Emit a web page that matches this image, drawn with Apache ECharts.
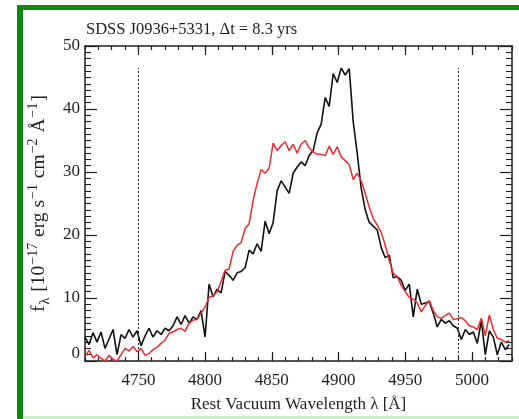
<!DOCTYPE html>
<html>
<head>
<meta charset="utf-8">
<script src="https://cdn.jsdelivr.net/npm/echarts@6/dist/echarts.min.js"></script>
<style>html,body{margin:0;padding:0;background:#fff;}#c{width:519px;height:419px;}</style>
</head>
<body>
<div id="c"></div>
<script>
const titleText = 'SDSS J0936+5331, \u0394t = 8.3 yrs';
const xTitle = 'Rest Vacuum Wavelength \u03bb [\u00c5]';
const xMajorTicks = [4750, 4800, 4850, 4900, 4950, 5000];
const xMinorTicks = [4710,4720,4730,4740,4750,4760,4770,4780,4790,4800,4810,4820,4830,4840,4850,4860,4870,4880,4890,4900,4910,4920,4930,4940,4950,4960,4970,4980,4990,5000,5010,5020,5030];
const yTicks = [0, 10, 20, 30, 40, 50];
const refLines = [4750, 4990];
const refTop = 46.5;

const wavelength = [4710,4713,4716,4719,4722,4725,4728,4731,4734,4737,4740,4743,4746,4749,4752,4755,4758,4761,4764,4767,4770,4773,4776,4779,4782,4785,4788,4791,4794,4797,4800,4803,4806,4809,4812,4815,4818,4821,4824,4827,4830,4833,4836,4839,4842,4845,4848,4851,4854,4857,4860,4863,4866,4869,4872,4875,4878,4881,4884,4887,4890,4893,4896,4899,4902,4905,4908,4911,4914,4917,4920,4923,4926,4929,4932,4935,4938,4941,4944,4947,4950,4953,4956,4959,4962,4965,4968,4971,4974,4977,4980,4983,4986,4989,4992,4995,4998,5001,5004,5007,5010,5013,5016,5019,5022,5025,5028];

const fluxBlack = [3.8,2.6,4.5,3.0,4.6,2.0,3.5,5.0,1.0,4.2,3.6,5.0,3.8,4.8,2.4,4.0,5.2,3.8,4.8,4.2,5.2,4.8,5.6,7.0,5.8,7.2,6.0,7.0,6.6,8.0,3.8,12.2,10.2,11.4,10.8,14.2,13.6,12.8,14.0,14.2,14.8,17.6,17.0,18.6,17.4,22.2,20.2,22.0,27.0,28.6,27.6,26.6,29.8,30.8,31.6,31.0,32.6,33.4,36.2,37.6,41.8,40.4,45.6,44.2,46.5,45.4,46.4,38.0,33.0,27.4,24.0,22.0,21.4,20.8,18.0,16.4,16.8,13.2,13.4,12.8,11.2,12.2,7.0,11.4,9.0,9.2,9.4,7.6,5.4,6.6,6.0,6.4,5.6,5.2,3.4,5.0,4.2,4.6,2.8,6.4,1.0,4.8,3.8,1.0,3.0,1.8,2.6];

const fluxRed = [0.7,1.7,0.5,1.0,0.4,0.0,0.9,0.3,0.0,1.0,2.0,1.6,2.3,1.5,2.0,0.9,1.2,1.8,2.2,2.8,3.3,4.4,4.6,5.0,5.2,4.7,6.0,6.5,6.6,7.6,8.6,10.1,10.4,11.0,12.6,14.4,14.6,17.4,18.4,18.8,21.0,21.8,25.5,28.2,30.4,29.8,30.6,34.6,33.4,34.2,34.8,33.4,34.4,33.0,34.4,35.0,33.8,33.2,32.8,32.8,32.6,34.1,32.8,34.0,32.4,31.8,31.2,28.8,29.8,28.6,26.6,24.4,22.6,21.6,20.4,18.4,16.0,13.9,13.4,12.0,11.0,10.1,9.8,9.2,7.8,8.8,9.6,8.0,7.0,6.8,7.2,7.6,6.6,6.7,6.9,6.4,5.6,5.4,5.0,6.8,4.0,7.3,5.0,3.6,3.4,3.0,3.2];

const serif = 'Liberation Serif';
const ink = '#1e1e1e';

function pairs(ys) { return wavelength.map((w, i) => [w, ys[i]]); }

const chart = echarts.init(document.getElementById('c'));

const lineCol = '#1e1e1e';
function xAx(pos, ticks, len, showLine, showLabel) {
  return {
    type: 'value', position: pos, min: 4710, max: 5030,
    axisLine: { show: showLine, onZero: false, lineStyle: { color: lineCol, width: 1.5 } },
    axisTick: { show: true, inside: true, length: len, customValues: ticks, lineStyle: { color: lineCol, width: 1.2 } },
    axisLabel: { show: showLabel, customValues: ticks, margin: 11, color: ink, fontFamily: serif, fontSize: 17,
      formatter: v => String(v) },
    splitLine: { show: false }
  };
}
function yAx(pos, showLabel) {
  return {
    type: 'value', position: pos, min: 0, max: 50, interval: 10,
    axisLine: { show: true, onZero: false, lineStyle: { color: lineCol, width: 1.5 } },
    axisTick: { show: true, inside: true, length: 12, lineStyle: { color: lineCol, width: 1.2 } },
    minorTick: { show: true, splitNumber: 10, length: 6, lineStyle: { color: lineCol, width: 1.1 } },
    axisLabel: { show: showLabel, margin: 5, color: ink, fontFamily: serif, fontSize: 17,
      formatter: v => (v === yTicks[0] ? '{z|' + v + '}' : String(v)),
      rich: { z: { fontFamily: serif, fontSize: 17, color: ink, padding: [0, 0, 14, 0] } } },
    splitLine: { show: false }
  };
}

const xAxes = [
  xAx('bottom', xMajorTicks, 9, true, true),
  xAx('bottom', xMinorTicks, 4, false, false),
  xAx('top', xMajorTicks, 9, true, false),
  xAx('top', xMinorTicks, 4, false, false)
];
xAxes[0].name = xTitle;
xAxes[0].nameLocation = 'middle';
xAxes[0].nameGap = 35;
xAxes[0].nameTextStyle = { color: ink, fontFamily: serif, fontSize: 17 };

const yAxes = [yAx('left', true), yAx('right', false)];
yAxes[0].name = '{a|f}{s|\u03bb}{a| [10}{u|\u221217}{a| erg s}{u|\u22121}{a| cm}{u|\u22122}{a| \u00c5}{u|\u22121}{a|]}';
yAxes[0].nameLocation = 'middle';
yAxes[0].nameGap = 25;
yAxes[0].nameRotate = 90;
yAxes[0].nameTextStyle = {
  color: ink, fontFamily: serif, fontSize: 19.5,
  rich: {
    a: { fontFamily: serif, fontSize: 19.5, color: ink, lineHeight: 26, verticalAlign: 'middle' },
    u: { fontFamily: serif, fontSize: 14, color: ink, lineHeight: 26, verticalAlign: 'top', padding: [0, 1, 0, 1] },
    s: { fontFamily: serif, fontSize: 14, color: ink, lineHeight: 26, verticalAlign: 'bottom', padding: [0, 1, 0, 1] }
  }
};

chart.setOption({
  animation: false,
  backgroundColor: '#fff',
  title: {
    text: titleText, left: 86, top: 21, padding: 0,
    textStyle: { color: ink, fontFamily: serif, fontSize: 16.5, fontWeight: 'normal' }
  },
  grid: { left: 85, right: 7, top: 46, bottom: 58 },
  xAxis: xAxes,
  yAxis: yAxes,
  graphic: [
    { type: 'rect', shape: { x: 17, y: 5, width: 6, height: 414 }, style: { fill: '#0b8a0b' }, silent: true },
    { type: 'rect', shape: { x: 17, y: 5, width: 502, height: 5 }, style: { fill: '#0b8a0b' }, silent: true },
    { type: 'rect', shape: { x: 23, y: 416, width: 496, height: 3 }, style: { fill: '#cdebcd' }, silent: true }
  ],
  series: [
    {
      type: 'line', name: 'black', data: pairs(fluxBlack), showSymbol: false, symbol: 'none',
      lineStyle: { color: '#111', width: 1.6 }, z: 3,
      markLine: {
        silent: true, symbol: 'none', label: { show: false },
        lineStyle: { color: '#222', width: 1, type: [2, 2] },
        data: refLines.map(w => [{ coord: [w, 0] }, { coord: [w, refTop] }])
      }
    },
    {
      type: 'line', name: 'red', data: pairs(fluxRed), showSymbol: false, symbol: 'none',
      lineStyle: { color: '#ee2b2b', width: 1.5 }, z: 4
    }
  ]
});
</script>
</body>
</html>
